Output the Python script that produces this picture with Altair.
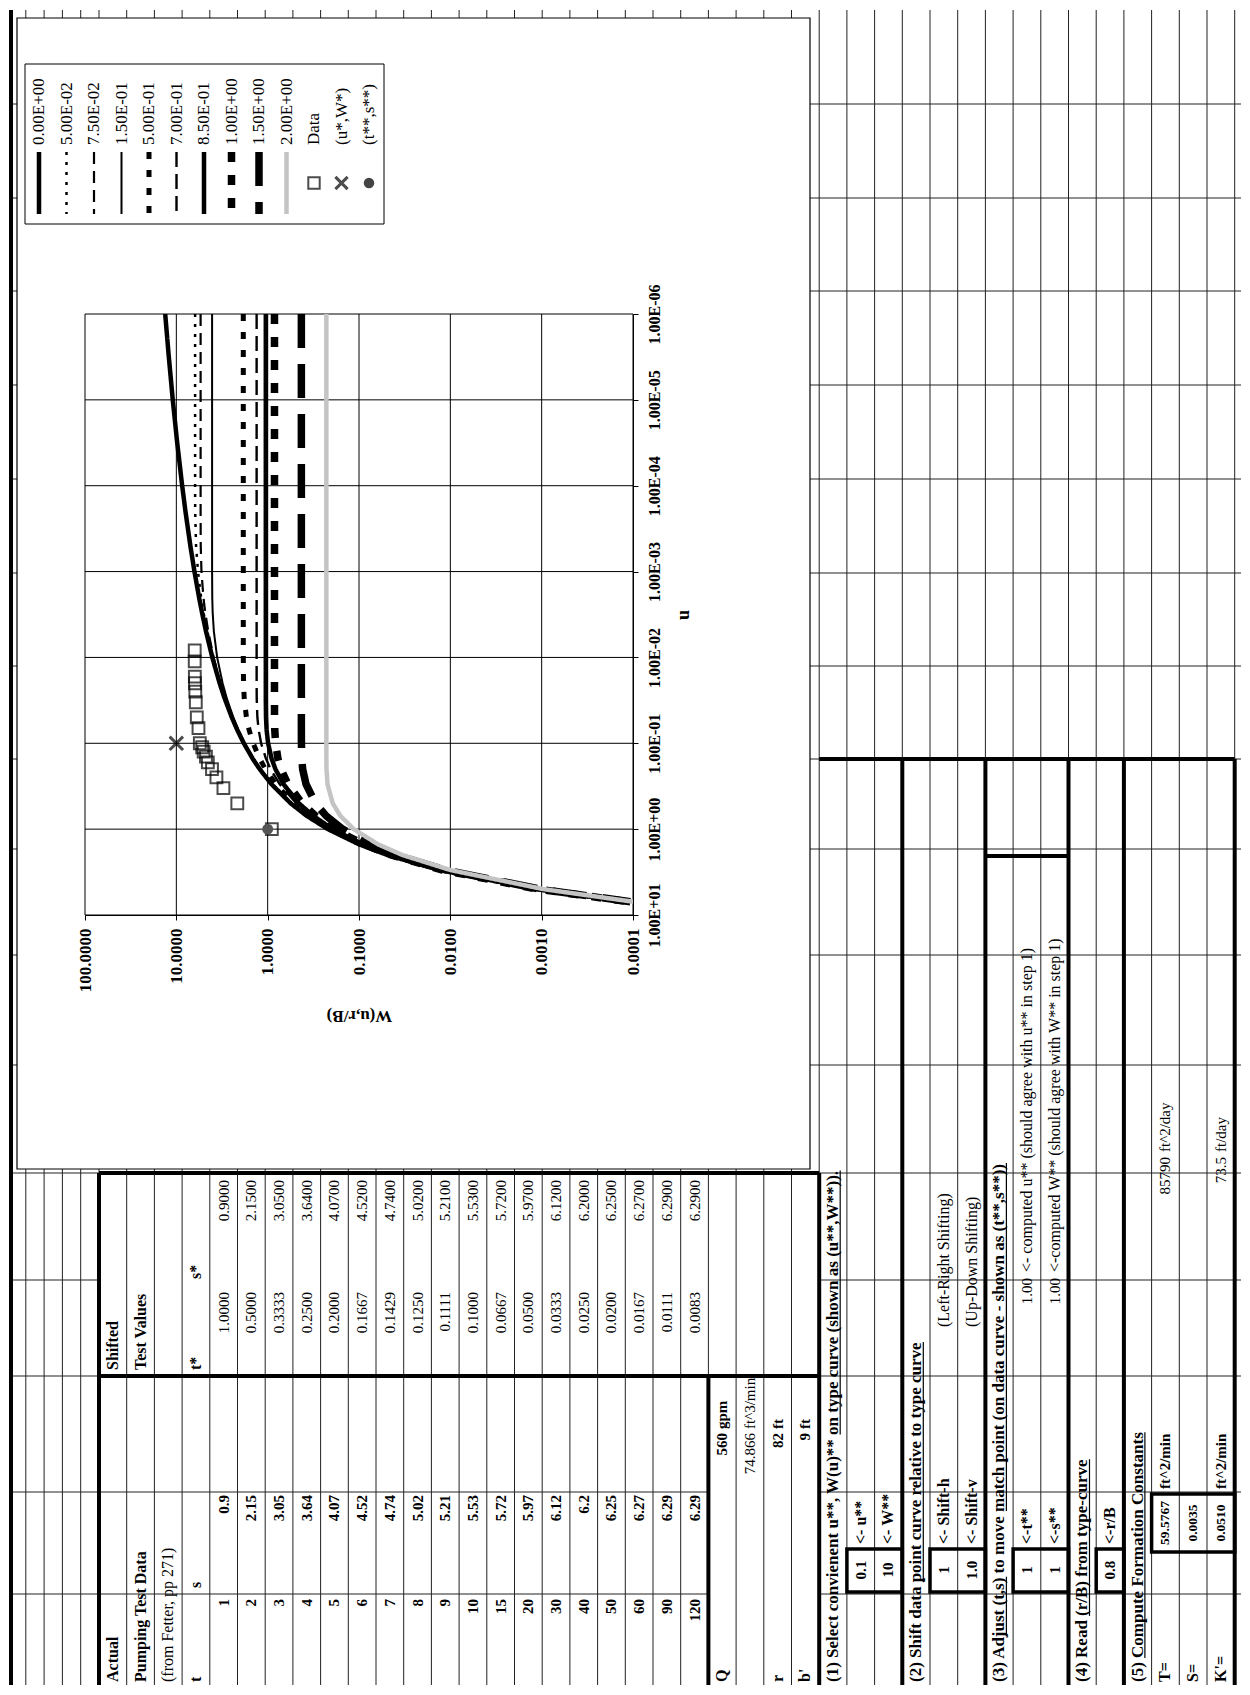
import altair as alt
import pandas as pd

# ====================== values read from the sheet ======================
# Pumping test data (Fetter, pp 271)
T_MIN = [1, 2, 3, 4, 5, 6, 7, 8, 9, 10, 15, 20, 30, 40, 50, 60, 90, 120]
S_FT = [0.9, 2.15, 3.05, 3.64, 4.07, 4.52, 4.74, 5.02, 5.21, 5.53, 5.72, 5.97,
        6.12, 6.2, 6.25, 6.27, 6.29, 6.29]
# shifted test values
T_STAR = [1.0000, 0.5000, 0.3333, 0.2500, 0.2000, 0.1667, 0.1429, 0.1250, 0.1111,
          0.1000, 0.0667, 0.0500, 0.0333, 0.0250, 0.0200, 0.0167, 0.0111, 0.0083]
S_STAR = [0.9000, 2.1500, 3.0500, 3.6400, 4.0700, 4.5200, 4.7400, 5.0200, 5.2100,
          5.5300, 5.7200, 5.9700, 6.1200, 6.2000, 6.2500, 6.2700, 6.2900, 6.2900]

# match points
MATCH_U, MATCH_W = 0.1, 10.0     # (u*, W*)
MATCH_T, MATCH_S = 1.0, 1.0      # (t**, s**)

# type curves W(u, r/B)
U_GRID = [1e-6, 3e-6, 1e-5, 3e-5, 1e-4, 2e-4, 5e-4, 1e-3, 2e-3, 3e-3, 5e-3, 1e-2,
          2e-2, 3e-2, 5e-2, 7e-2, 0.1, 0.15, 0.2, 0.3, 0.5, 0.7, 1.0, 1.5, 2.0, 3.0,
          5.0, 7.0]
W_000 = [13.24, 12.14, 10.94, 9.837, 8.633, 7.940, 7.024, 6.332, 5.639, 5.235, 4.726,
         4.038, 3.355, 2.959, 2.468, 2.151, 1.823, 1.465, 1.223, 0.906, 0.560, 0.374,
         0.219, 0.100, 0.0489, 0.0130, 0.00115, 0.000116]
W_005 = [6.229, 6.229, 6.229, 6.229, 6.228, 6.217, 6.082, 5.795, 5.356, 5.042, 4.571,
         3.975, 3.326, 2.941, 2.458, 2.144, 1.818, 1.463, 1.222, 0.906, 0.560, 0.374,
         0.219, 0.100, 0.0489, 0.0130, 0.00115, 0.000116]
W_0075 = [5.423, 5.423, 5.423, 5.423, 5.423, 5.423, 5.406, 5.308, 5.051, 4.825, 4.468,
          3.904, 3.290, 2.918, 2.445, 2.135, 1.813, 1.458, 1.219, 0.904, 0.559, 0.373,
          0.219, 0.100, 0.0488, 0.0130, 0.00115, 0.000116]
W_015 = [4.060, 4.060, 4.060, 4.060, 4.060, 4.060, 4.060, 4.059, 4.043, 4.001, 3.882,
         3.572, 3.113, 2.800, 2.377, 2.088, 1.782, 1.440, 1.207, 0.897, 0.556, 0.372,
         0.218, 0.0995, 0.0487, 0.0130, 0.00114, 0.000116]
W_050 = [1.849, 1.849, 1.849, 1.849, 1.849, 1.849, 1.849, 1.849, 1.849, 1.849, 1.849,
         1.8485, 1.838, 1.806, 1.708, 1.597, 1.443, 1.227, 1.059, 0.814, 0.521, 0.353,
         0.210, 0.0970, 0.0477, 0.0128, 0.00113, 0.000114]
W_070 = [1.321, 1.321, 1.321, 1.321, 1.321, 1.321, 1.321, 1.321, 1.321, 1.321, 1.321,
         1.321, 1.3207, 1.318, 1.296, 1.255, 1.179, 1.047, 0.928, 0.737, 0.486, 0.335,
         0.202, 0.0942, 0.0466, 0.0126, 0.00112, 0.000113]
W_085 = [1.048, 1.048, 1.048, 1.048, 1.048, 1.048, 1.048, 1.048, 1.048, 1.048, 1.048,
         1.048, 1.048, 1.048, 1.043, 1.027, 0.989, 0.907, 0.822, 0.670, 0.455, 0.318,
         0.194, 0.0915, 0.0456, 0.0124, 0.00110, 0.000111]
W_100 = [0.842, 0.842, 0.842, 0.842, 0.842, 0.842, 0.842, 0.842, 0.842, 0.842, 0.842,
         0.842, 0.842, 0.842, 0.841, 0.836, 0.819, 0.773, 0.715, 0.600, 0.421, 0.300,
         0.186, 0.0886, 0.0444, 0.0122, 0.00110, 0.000112]
W_150 = [0.4276, 0.4276, 0.4276, 0.4276, 0.4276, 0.4276, 0.4276, 0.4276, 0.4276, 0.4276,
         0.4276, 0.4276, 0.4276, 0.4276, 0.4276, 0.4276, 0.427, 0.423, 0.414, 0.380,
         0.300, 0.229, 0.151, 0.0761, 0.0395, 0.0112, 0.00104, 0.000107]
W_200 = [0.2278, 0.2278, 0.2278, 0.2278, 0.2278, 0.2278, 0.2278, 0.2278, 0.2278, 0.2278,
         0.2278, 0.2278, 0.2278, 0.2278, 0.2278, 0.2278, 0.2278, 0.2277, 0.2269, 0.2211,
         0.194, 0.160, 0.114, 0.062, 0.0335, 0.0099, 0.00095, 0.000100]

RB_LABELS = ["0.00E+00", "5.00E-02", "7.50E-02", "1.50E-01", "5.00E-01",
             "7.00E-01", "8.50E-01", "1.00E+00", "1.50E+00", "2.00E+00"]
W_CURVES = [W_000, W_005, W_0075, W_015, W_050, W_070, W_085, W_100, W_150, W_200]
MARKER_LABELS = ["Data", "(u*,W*)", "(t**,s**)"]

W_TICKS = [100, 10, 1, 0.1, 0.01, 0.001, 0.0001]
U_TICKS = [10, 1, 0.1, 0.01, 0.001, 0.0001, 0.00001, 0.000001]

# ====================== styles ======================
SERIF = "Liberation Serif"
CURVE_STYLE = [
    dict(stroke="#000", strokeWidth=4.5, strokeDash=[1, 0]),
    dict(stroke="#000", strokeWidth=2.5, strokeDash=[3, 7]),
    dict(stroke="#000", strokeWidth=2.2, strokeDash=[12, 7]),
    dict(stroke="#000", strokeWidth=2.0, strokeDash=[1, 0]),
    dict(stroke="#000", strokeWidth=5.0, strokeDash=[7, 11]),
    dict(stroke="#000", strokeWidth=2.4, strokeDash=[15, 7]),
    dict(stroke="#000", strokeWidth=4.5, strokeDash=[1, 0]),
    dict(stroke="#000", strokeWidth=7.5, strokeDash=[10, 13]),
    dict(stroke="#000", strokeWidth=7.5, strokeDash=[34, 16]),
    dict(stroke="#c4c4c4", strokeWidth=4.5, strokeDash=[1, 0]),
]
FS_HEAD, FS_TEXT, FS_NUM, FS_SMALL, FS_LEG = 17, 16, 15, 13.5, 17

# Times-Bold advance widths (1/1000 em), used only to place underlines
TB = {" ": 250, "(": 333, ")": 333, "*": 500, ",": 250, "-": 333, ".": 250, "/": 278,
      "'": 278, "^": 581, "<": 570, "=": 570}
TB.update({d: 500 for d in "0123456789"})
TB.update(dict(zip("ABCDEFGHIJKLMNOPQRSTUVWXYZ",
                   [722, 667, 722, 722, 667, 611, 778, 778, 389, 500, 778, 667, 944,
                    722, 778, 611, 778, 722, 556, 667, 722, 722, 1000, 722, 722, 667])))
TB.update(dict(zip("abcdefghijklmnopqrstuvwxyz",
                   [500, 556, 444, 556, 444, 333, 500, 556, 278, 333, 556, 278, 833,
                    556, 500, 556, 556, 444, 389, 333, 556, 500, 722, 500, 500, 444])))


def tb_width(s, size):
    return sum(TB.get(c, 500) for c in s) * size / 1000.0


# ====================== page layout (pixels) ======================
PX0, PX1 = 84, 632          # plot area, W axis
PY0, PY1 = 312, 913         # plot area, u axis
PAGE_X0, PAGE_Y0, PAGE_X1, PAGE_Y1 = 8, 8, 1240, 1683
FRAME = (16, 16, 809, 1167)  # chart area box
ROW0, ROW_H = 98.0, 27.7     # spreadsheet rows run left->right
ROW_H_TOP = 18.3             # short rows left of the table
H_LINES = [102, 196, 289, 383, 477, 571, 664, 757, 847, 953, 1063, 1171, 1278,
           1374, 1490, 1592]
LEG_BOX = (24, 62, 383, 222)
LEG_X0, LEG_DX = 38, 27.5
Y_START = PAGE_Y1 - 3        # left edge of column A (text start)


def rx(k):
    return ROW0 + ROW_H * k


XS = alt.Scale(domain=[PX0, PX1], nice=False, zero=False)
YS = alt.Scale(domain=[PY0, PY1], nice=False, zero=False, reverse=True)


def enc_xy(ch, two=False):
    e = dict(x=alt.X("x:Q", scale=XS, axis=None), y=alt.Y("y:Q", scale=YS, axis=None))
    if two:
        e["x2"] = "x2:Q"
        e["y2"] = "y2:Q"
    return ch.encode(**e)


def seg_df(segs):
    return pd.DataFrame(segs, columns=["x", "y", "x2", "y2"])


page_layers = []

# page background (also fixes the page extent)
page_layers.append(enc_xy(alt.Chart(seg_df([(PAGE_X0, PAGE_Y0, PAGE_X1, PAGE_Y1)]))
                          .mark_rect(fill="white"), two=True))

# thin spreadsheet grid
thin = []
for k in range(0, 42):
    thin.append((rx(k), PAGE_Y0, rx(k), PAGE_Y1))
for j in range(1, 6):
    x = ROW0 - ROW_H_TOP * j
    if x >= PAGE_X0 + 4:
        thin.append((x, PAGE_Y0, x, PAGE_Y1))
for y in H_LINES:
    if y == 1278:
        thin.append((PAGE_X0, y, rx(0), y))
        thin.append((rx(26), y, PAGE_X1, y))
    elif y in (1490, 1592):
        thin.append((PAGE_X0, y, rx(22), y))
        thin.append((rx(26), y, PAGE_X1, y))
    else:
        thin.append((PAGE_X0, y, PAGE_X1, y))
page_layers.append(enc_xy(alt.Chart(seg_df(thin)).mark_rule(color="#222", strokeWidth=1), two=True))

# left page edge
page_layers.append(enc_xy(alt.Chart(seg_df([(10, PAGE_Y0, 10, PAGE_Y1)]))
                          .mark_rule(color="black", strokeWidth=4), two=True))

# chart area box
page_layers.append(enc_xy(alt.Chart(seg_df([FRAME])).mark_rect(fill="white", stroke="black",
                                                               strokeWidth=1.2), two=True))

# thick table borders
thick = [
    (rx(0), 1171, rx(26), 1171), (rx(0), 1171, rx(0), PAGE_Y1), (rx(26), 1171, rx(26), PAGE_Y1),
    (rx(0), 1374, rx(26), 1374), (rx(22), 1374, rx(22), PAGE_Y1),
    (rx(26), 757, rx(41), 757), (rx(41), 757, rx(41), PAGE_Y1),
    (rx(29), 757, rx(29), PAGE_Y1), (rx(32), 757, rx(32), PAGE_Y1),
    (rx(35), 757, rx(35), PAGE_Y1), (rx(37), 757, rx(37), PAGE_Y1),
    (rx(32), 854, rx(35), 854),
]
page_layers.append(enc_xy(alt.Chart(seg_df(thick)).mark_rule(color="black", strokeWidth=4), two=True))

# thick boxes around the input cells
boxes = [(rx(27), 1547, rx(29), 1590), (rx(30), 1547, rx(32), 1590),
         (rx(33), 1547, rx(35), 1590), (rx(36), 1547, rx(37), 1590),
         (rx(38), 1492, rx(41), 1550)]
page_layers.append(enc_xy(alt.Chart(seg_df(boxes)).mark_rect(
    fill=None, stroke="black", strokeWidth=3.5), two=True))

# ---------- table text: (row, align, weight, size, anchor, text) ----------
cells = [
    (0, "L", "bold", FS_TEXT, Y_START, "Actual"), (0, "L", "bold", FS_TEXT, 1368, "Shifted"),
    (1, "L", "bold", FS_TEXT, Y_START, "Pumping Test Data"),
    (1, "L", "bold", FS_TEXT, 1368, "Test Values"),
    (2, "L", "normal", FS_TEXT, Y_START, "(from Fetter, pp 271)"),
    (3, "L", "bold", FS_TEXT, Y_START, "t"), (3, "L", "bold", FS_TEXT, 1586, "s"),
    (3, "L", "bold", FS_TEXT, 1368, "t*"), (3, "L", "bold", FS_TEXT, 1277, "s*"),
]
for i in range(len(T_MIN)):
    k = 4 + i
    cells += [(k, "R", "bold", FS_NUM, 1597, f"{T_MIN[i]}"),
              (k, "R", "bold", FS_NUM, 1493, f"{S_FT[i]:g}"),
              (k, "R", "normal", FS_NUM, 1290, f"{T_STAR[i]:.4f}"),
              (k, "R", "normal", FS_NUM, 1178, f"{S_STAR[i]:.4f}")]
cells += [
    (22, "L", "bold", FS_TEXT, Y_START, "Q"), (22, "R", "bold", FS_NUM, 1431, "560"),
    (22, "L", "bold", FS_NUM, 1427, "gpm"),
    (23, "R", "normal", FS_NUM, 1431, "74.866"), (23, "L", "normal", FS_NUM, 1427, "ft^3/min"),
    (24, "L", "bold", FS_TEXT, Y_START, "r"), (24, "R", "bold", FS_NUM, 1431, "82"),
    (24, "L", "bold", FS_NUM, 1427, "ft"),
    (25, "L", "bold", FS_TEXT, Y_START, "b'"), (25, "R", "bold", FS_NUM, 1431, "9"),
    (25, "L", "bold", FS_NUM, 1427, "ft"),
    (27, "C", "bold", FS_NUM, 1568, "0.1"), (27, "L", "bold", FS_TEXT, 1542, "<- u**"),
    (28, "C", "bold", FS_NUM, 1568, "10"), (28, "L", "bold", FS_TEXT, 1542, "<- W**"),
    (30, "C", "bold", FS_NUM, 1568, "1"), (30, "L", "bold", FS_TEXT, 1542, "<- Shift-h"),
    (30, "L", "normal", FS_TEXT, 1325, "(Left-Right Shifting)"),
    (31, "C", "bold", FS_NUM, 1568, "1.0"), (31, "L", "bold", FS_TEXT, 1542, "<- Shift-v"),
    (31, "L", "normal", FS_TEXT, 1325, "(Up-Down Shifting)"),
    (33, "C", "bold", FS_NUM, 1568, "1"), (33, "L", "bold", FS_TEXT, 1542, "<-t**"),
    (33, "R", "normal", FS_NUM, 1276, "1.00"),
    (33, "L", "normal", FS_TEXT, 1270, "<- computed u** (should agree with u** in step 1)"),
    (34, "C", "bold", FS_NUM, 1568, "1"), (34, "L", "bold", FS_TEXT, 1542, "<-s**"),
    (34, "R", "normal", FS_NUM, 1276, "1.00"),
    (34, "L", "normal", FS_TEXT, 1270, "<-computed W** (should agree with W** in step 1)"),
    (36, "C", "bold", FS_NUM, 1568, "0.8"), (36, "L", "bold", FS_TEXT, 1542, "<-r/B"),
    (38, "L", "bold", FS_TEXT, Y_START, "T="), (38, "C", "bold", FS_SMALL, 1521, "59.5767"),
    (38, "L", "bold", FS_NUM, 1487, "ft^2/min"),
    (38, "R", "normal", FS_NUM, 1155, "85790"), (38, "L", "normal", FS_NUM, 1150, "ft^2/day"),
    (39, "L", "bold", FS_TEXT, Y_START, "S="), (39, "C", "bold", FS_SMALL, 1521, "0.0035"),
    (40, "L", "bold", FS_TEXT, Y_START, "K'="), (40, "C", "bold", FS_SMALL, 1521, "0.0510"),
    (40, "L", "bold", FS_NUM, 1487, "ft^2/min"),
    (40, "R", "normal", FS_NUM, 1155, "73.5"), (40, "L", "normal", FS_NUM, 1150, "ft/day"),
]
# step headings and the underlined part(s) of each
HEADINGS = [
    (26, "(1) Select convienent u**, W(u)** on type curve (shown as (u**,W**)).",
     ["on type curve (shown as (u**,W**))."]),
    (29, "(2) Shift data point curve relative to type curve",
     ["point curve relative to type curve"]),
    (32, "(3) Adjust (t,s) to move match point (on data curve - shown as (t**,s**))",
     ["just (t,s)", "match point (on data curve - shown as (t**,s**))"]),
    (35, "(4) Read (r/B) from type-curve", ["(r/B) from type-curve"]),
    (37, "(5) Compute Formation Constants", ["Compute Formation Constants"]),
]
underlines = []
for k, txt, parts in HEADINGS:
    cells.append((k, "L", "bold", FS_HEAD, Y_START, txt))
    for p in parts:
        i0 = txt.index(p)
        y_a = Y_START - tb_width(txt[:i0], FS_HEAD)
        y_b = Y_START - tb_width(txt[:i0 + len(p)], FS_HEAD)
        xu = rx(k + 0.5) + 0.42 * FS_HEAD
        underlines.append((xu, y_b, xu, y_a))
page_layers.append(enc_xy(alt.Chart(seg_df(underlines)).mark_rule(color="black", strokeWidth=1.2),
                          two=True))

cell_df = pd.DataFrame([dict(x=rx(k + 0.5), y=y, label=t, al=a, wt=w, fs=s)
                        for k, a, w, s, y, t in cells])
ALIGN = {"L": "left", "R": "right", "C": "center"}
for (al, wt, fs), sub in cell_df.groupby(["al", "wt", "fs"]):
    page_layers.append(enc_xy(alt.Chart(sub).mark_text(
        angle=270, align=ALIGN[al], baseline="middle", font=SERIF, fontSize=float(fs),
        fontWeight=wt, color="black")).encode(text="label:N"))

# ---------- legend ----------
page_layers.append(enc_xy(alt.Chart(seg_df([LEG_BOX])).mark_rect(
    fill="white", stroke="black", strokeWidth=1), two=True))
for i, st in enumerate(CURVE_STYLE):
    lx = LEG_X0 + LEG_DX * i
    page_layers.append(enc_xy(alt.Chart(seg_df([(lx, 150, lx, 212)])).mark_rule(**st), two=True))
mk_y = 181
mk_x = [LEG_X0 + LEG_DX * (10 + j) for j in range(3)]
page_layers.append(enc_xy(alt.Chart(pd.DataFrame({"x": [mk_x[0]], "y": [mk_y]})).mark_point(
    shape="square", filled=False, size=130, strokeWidth=2, color="black")))
page_layers.append(enc_xy(alt.Chart(pd.DataFrame({"x": [mk_x[1]], "y": [mk_y]})).mark_point(
    shape="M-1,-1L1,1M1,-1L-1,1", filled=False, size=150, strokeWidth=3, color="black")))
page_layers.append(enc_xy(alt.Chart(pd.DataFrame({"x": [mk_x[2]], "y": [mk_y]})).mark_point(
    shape="circle", filled=True, size=110, color="#444", opacity=1)))
leg_text = pd.DataFrame({"x": [LEG_X0 + LEG_DX * i for i in range(13)],
                         "y": [143] * 13, "label": RB_LABELS + MARKER_LABELS})
page_layers.append(enc_xy(alt.Chart(leg_text).mark_text(
    angle=270, align="left", baseline="middle", font=SERIF, fontSize=FS_LEG,
    color="black")).encode(text="label:N"))

page = alt.layer(*page_layers)

# ====================== the type-curve plot ======================
WS = alt.Scale(type="log", domain=[0.0001, 100], reverse=True, nice=False)
US = alt.Scale(type="log", domain=[0.000001, 10], reverse=True, nice=False)
X_AX = alt.Axis(values=W_TICKS, format=".4f", labelAngle=270, labelAlign="right",
                labelBaseline="middle", labelFont=SERIF, labelFontSize=17,
                labelFontWeight="bold", labelColor="black", labelPadding=8,
                labelFlush=False, labelOverlap=False, tickColor="black", tickSize=5,
                domainColor="black", grid=False, title="W(u,r/B)", titleAngle=180,
                titleFont=SERIF, titleFontSize=17, titleFontWeight="bold",
                titleColor="black", titlePadding=32, zindex=1)
Y_AX = alt.Axis(orient="right", values=U_TICKS,
                labelExpr="'1.00E' + (datum.value >= 1 ? '+' : '-') + pad(toString(abs(round(log(datum.value) / LN10))), 2, '0', 'left')",
                labelAngle=270, labelAlign="center", labelBaseline="top",
                labelFont=SERIF, labelFontSize=16, labelFontWeight="bold",
                labelColor="black", labelPadding=8, labelFlush=False, labelOverlap=False,
                tickColor="black", tickSize=5, domainColor="black", grid=False,
                title="u", titleAngle=270, titleFont=SERIF, titleFontSize=18,
                titleFontWeight="bold", titleColor="black", titlePadding=30, zindex=1)


def penc(ch, with_y=True, with_x=True):
    e = {}
    if with_x:
        e["x"] = alt.X("W:Q", scale=WS, axis=X_AX)
    if with_y:
        e["y"] = alt.Y("u:Q", scale=US, axis=Y_AX)
    return ch.encode(**e)


plot_layers = [
    penc(alt.Chart(pd.DataFrame({"W": W_TICKS})).mark_rule(color="black", strokeWidth=1),
         with_y=False),
    penc(alt.Chart(pd.DataFrame({"u": U_TICKS})).mark_rule(color="black", strokeWidth=1),
         with_x=False),
]
for lab, wv, st in zip(RB_LABELS, W_CURVES, CURVE_STYLE):
    df = pd.DataFrame({"u": U_GRID, "W": wv, "i": list(range(len(U_GRID)))})
    plot_layers.append(penc(alt.Chart(df).mark_line(clip=True, **st)).encode(order="i:Q"))

plot_layers.append(penc(alt.Chart(pd.DataFrame({"u": T_STAR, "W": S_STAR})).mark_point(
    shape="square", filled=False, size=140, strokeWidth=2, color="black")))
plot_layers.append(penc(alt.Chart(pd.DataFrame({"u": [MATCH_U], "W": [MATCH_W]})).mark_point(
    shape="M-1,-1L1,1M1,-1L-1,1", filled=False, size=180, strokeWidth=3, color="black")))
plot_layers.append(penc(alt.Chart(pd.DataFrame({"u": [MATCH_T], "W": [MATCH_S]})).mark_point(
    shape="circle", filled=True, size=120, color="#555", opacity=1)))

plot = alt.layer(*plot_layers)

chart = (alt.layer(page, plot)
         .resolve_scale(x="independent", y="independent")
         .properties(width=PX1 - PX0, height=PY1 - PY0, padding=0)
         .configure_view(stroke=None))

chart.save("out.html", embed_options={"renderer": "svg", "actions": False})
